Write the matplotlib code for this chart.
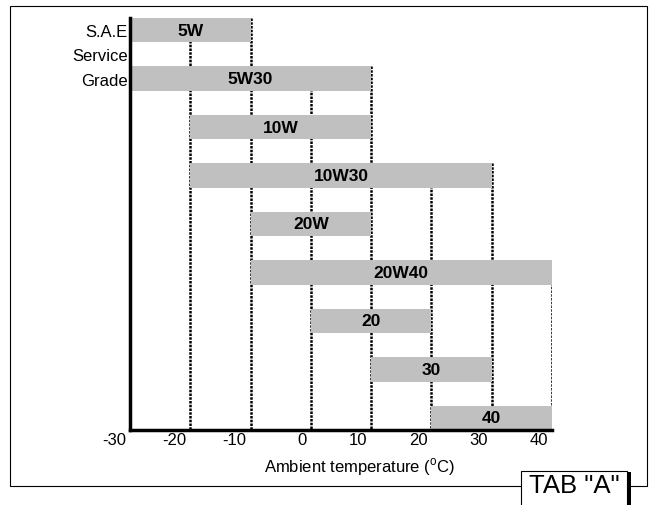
import matplotlib.pyplot as plt
import matplotlib.transforms as mtransforms
from matplotlib.patches import Rectangle

plt.rcParams['font.family'] = ['Liberation Sans', 'DejaVu Sans']
plt.rcParams['mathtext.fontset'] = 'custom'
plt.rcParams['mathtext.rm'] = 'Liberation Sans'
plt.rcParams['axes.unicode_minus'] = False

# oil grades and their temperature ranges (deg C)
grades = ['5W', '5W30', '10W', '10W30', '20W', '20W40', '20', '30', '40']
t_low = [-30, -30, -20, -20, -10, -10, 0, 10, 20]
t_high = [-10, 10, 10, 30, 10, 40, 20, 30, 40]
temps = [-30, -20, -10, 0, 10, 20, 30, 40]
side_labels = ['S.A.E', 'Service', 'Grade']

W, H = 651, 506
fig = plt.figure(figsize=(W / 100, H / 100), dpi=100)
ax = fig.add_axes([130 / W, 1 - 431 / H, 422 / W, 412 / H])

rows = list(range(len(grades)))
bar_h = 0.5

# bars
ax.barh(rows, [h - l for l, h in zip(t_low, t_high)], left=t_low,
        height=bar_h, color='#c0c0c0', zorder=2)
for i in rows:
    ax.text((t_low[i] + t_high[i]) / 2, i, grades[i], ha='center', va='center',
            fontsize=12.5, fontweight='bold', zorder=3)

# dotted lines, starting at the first bar that covers each boundary
bottom = len(grades) - 1 + bar_h / 2
for b in temps[1:]:
    first = next(i for i in rows if t_low[i] <= b <= t_high[i])
    ax.vlines(b, first - bar_h / 2, bottom, colors='black',
              linestyles=(0, (1, 0.5)), lw=1.8, zorder=1)

ax.set_xlim(temps[0], temps[-1])
ax.set_ylim(bottom, -bar_h / 2)

ax.set_xticks(temps)
ax.set_yticks([0, 0.5, 1], side_labels)
ax.tick_params(axis='both', length=0, labelsize=12)
ax.tick_params(axis='x', pad=1.5)
ax.tick_params(axis='y', pad=1.5)

# tick labels end just left of each boundary
offset = mtransforms.ScaledTranslation(-0.04, 0, fig.dpi_scale_trans)
for lab in ax.get_xticklabels():
    lab.set_horizontalalignment('right')
    lab.set_transform(lab.get_transform() + offset)

for s in ['top', 'right']:
    ax.spines[s].set_visible(False)
for s in ['left', 'bottom']:
    ax.spines[s].set_linewidth(2.5)

ax.set_xlabel('Ambient temperature ($^{\\rm o}$C)', fontsize=12)
ax.xaxis.set_label_coords(0.543, -0.087)
ax.xaxis.label.set_verticalalignment('center')

# outer frame
fig.patches.append(Rectangle((10 / W, 1 - 487 / H), 637 / W, 480 / H,
                             transform=fig.transFigure, fill=False,
                             edgecolor='black', lw=0.8, zorder=0))

# TAB "A" box
fig.patches.append(Rectangle((521 / W, 1 - 520 / H), 106 / W, 48 / H,
                             transform=fig.transFigure, facecolor='white',
                             edgecolor='black', lw=0.8, zorder=5))
fig.patches.append(Rectangle((627 / W, 1 - 520 / H), 4 / W, 47 / H,
                             transform=fig.transFigure, facecolor='black',
                             edgecolor='none', zorder=5))
fig.text(574 / W, 1 - 486 / H, 'TAB "A"', ha='center', va='center',
         fontsize=18.5, zorder=6)

plt.savefig('out.png', dpi=100)
